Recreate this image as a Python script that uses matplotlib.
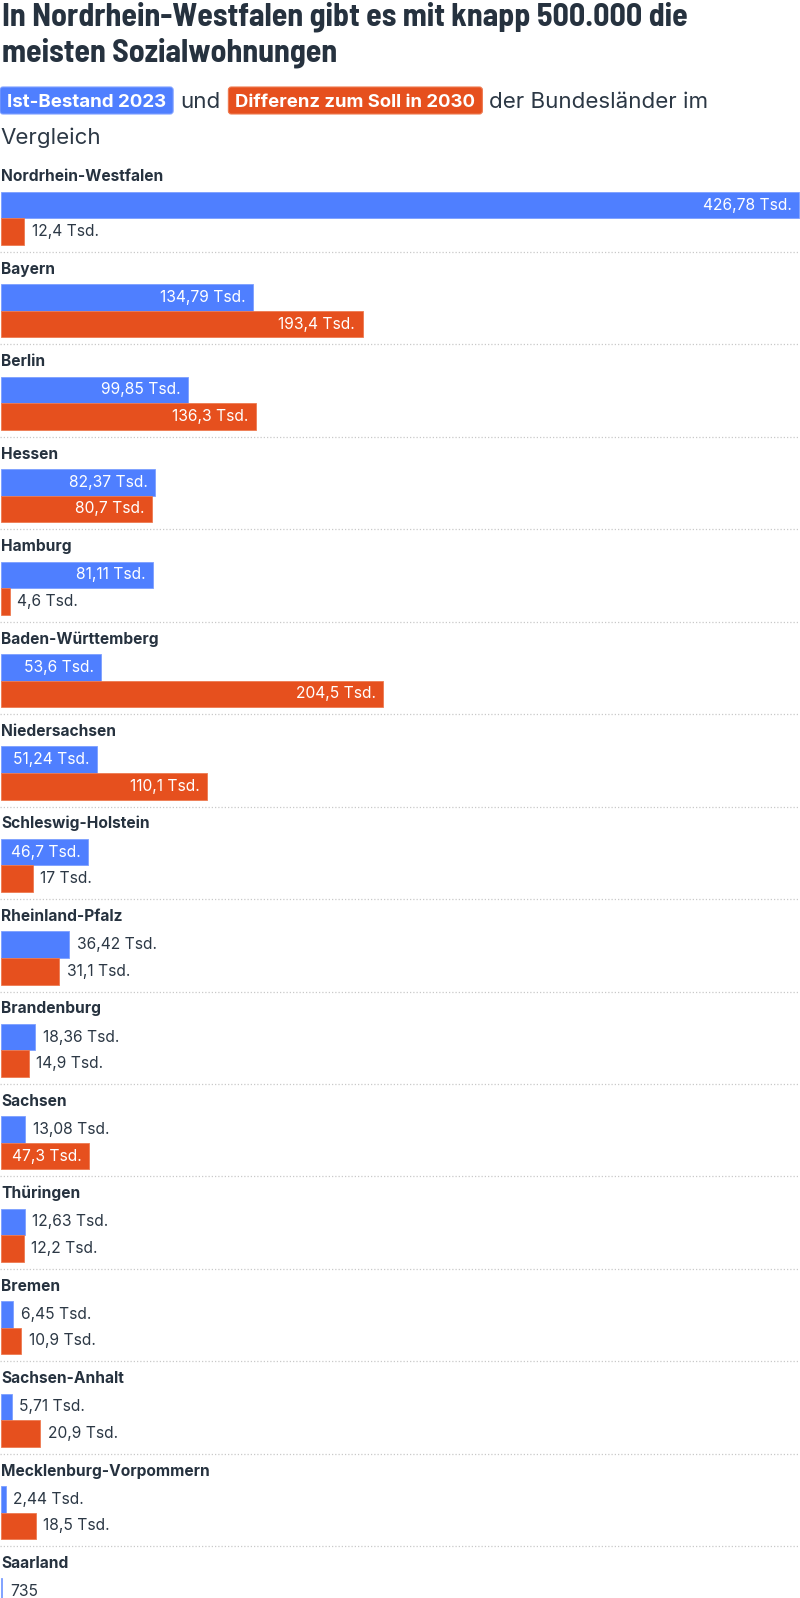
import matplotlib
matplotlib.use("Agg")
import numpy as np
import matplotlib.pyplot as plt
from matplotlib.patches import FancyBboxPatch
from matplotlib.transforms import Affine2D

# ---------------- data ----------------
states = ["Nordrhein-Westfalen", "Bayern", "Berlin", "Hessen", "Hamburg",
          "Baden-Württemberg", "Niedersachsen", "Schleswig-Holstein",
          "Rheinland-Pfalz", "Brandenburg", "Sachsen", "Thüringen", "Bremen",
          "Sachsen-Anhalt", "Mecklenburg-Vorpommern", "Saarland"]
ist_2023 = [426.78, 134.79, 99.85, 82.37, 81.11, 53.6, 51.24, 46.7, 36.42,
            18.36, 13.08, 12.63, 6.45, 5.71, 2.44, 0.735]
diff_2030 = [12.4, 193.4, 136.3, 80.7, 4.6, 204.5, 110.1, 17, 31.1, 14.9,
             47.3, 12.2, 10.9, 20.9, 18.5, np.nan]

title_lines = ["In Nordrhein-Westfalen gibt es mit knapp 500.000 die",
               "meisten Sozialwohnungen"]
legend_ist = "Ist-Bestand 2023"
legend_diff = "Differenz zum Soll in 2030"
sub_und = "und"
sub_rest1 = "der Bundesländer im"
sub_rest2 = "Vergleich"

# ---------------- style ----------------
BLUE = "#4f7fff"
BLUE_EDGE = "#7d9fff"
ORANGE = "#e6501e"
ORANGE_EDGE = "#ee7a50"
DARK = "#26323f"
TEXT = "#2c3845"
SEP = "#c9c9c9"
TITLE_FONT = ["Barlow Semi Condensed", "Roboto Condensed", "DejaVu Sans"]
BODY_FONT = ["Inter", "DejaVu Sans"]

W, H = 800, 1598
fig = plt.figure(figsize=(W / 100, H / 100), dpi=100)
renderer = fig.canvas.get_renderer()
# pixel coordinates measured from the top-left corner
tpx = Affine2D().scale(1.0 / W, -1.0 / H).translate(0, 1) + fig.transFigure


def width_px(t):
    return t.get_window_extent(renderer).width


def fit(t, target):
    for _ in range(3):
        w = width_px(t)
        t.set_fontsize(t.get_fontsize() * target / w)
    return t


# ---------------- title ----------------
t1 = fig.text(2, 26, title_lines[0], transform=tpx, ha="left", va="baseline",
              family=TITLE_FONT, weight="bold", fontsize=20, color=DARK)
fit(t1, 686)
fig.text(2, 61, title_lines[1], transform=tpx, ha="left", va="baseline",
         family=TITLE_FONT, weight="bold", fontsize=t1.get_fontsize(), color=DARK)

# ---------------- subtitle with legend pills ----------------
PILL_TOP, PILL_BOT, PAD = 87, 114, 7
x = 0


def pill(x0, label, fc, ec, target):
    t = fig.text(x0 + PAD, 107.3, label, transform=tpx, ha="left", va="baseline",
                 family=BODY_FONT, weight="bold", fontsize=12, color="white",
                 zorder=3)
    fit(t, target)
    w = width_px(t)
    p = FancyBboxPatch((x0, PILL_TOP), w + 2 * PAD, PILL_BOT - PILL_TOP,
                       boxstyle="round,pad=0,rounding_size=3", transform=tpx,
                       fc=fc, ec=ec, lw=0.8, zorder=2)
    fig.patches.append(p)
    return x0 + w + 2 * PAD


x = pill(0, legend_ist, BLUE, BLUE_EDGE, 159)
tr = fig.text(0, 108, sub_rest1, transform=tpx, ha="left", va="baseline",
              family=BODY_FONT, fontsize=16, color=TEXT)
fit(tr, 219)
sub_size = tr.get_fontsize()
tu = fig.text(x + 7, 108, sub_und, transform=tpx, ha="left", va="baseline",
              family=BODY_FONT, fontsize=sub_size, color=TEXT)
x = x + 7 + width_px(tu) + 8
x = pill(x, legend_diff, ORANGE, ORANGE_EDGE, 240)
tr.set_x(x + 7)
fig.text(0, 144, sub_rest2, transform=tpx, ha="left", va="baseline",
         family=BODY_FONT, fontsize=sub_size, color=TEXT)

# ---------------- bars ----------------
PITCH = 92.45      # px between groups
C0 = 218.3         # px: centre of first group (between its two bars)
BAR_H = 26.6       # px per bar
X0, X1 = 1.0, 799.0
KX = (X1 - X0) / max(ist_2023)   # px per Tsd.

ax = fig.add_axes([0, 0, 1, 1])
ax.set_xlim(-X0 / KX, (W - X0) / KX)
ax.set_ylim((H - C0) / PITCH, -C0 / PITCH)
ax.axis("off")

hb = BAR_H / PITCH
idx = np.arange(len(states))
ist = np.array(ist_2023, dtype=float)
dif = np.array(diff_2030, dtype=float)
ok = ~np.isnan(dif)

ax.barh(idx - hb / 2, ist, height=hb, color=BLUE, edgecolor=BLUE_EDGE,
        linewidth=0.6)
ax.barh(idx[ok] + hb / 2, dif[ok], height=hb, color=ORANGE,
        edgecolor=ORANGE_EDGE, linewidth=0.6)


def fmt(v):
    if v < 1:
        return f"{round(v * 1000)}"
    return f"{v:g}".replace(".", ",") + " Tsd."


# category labels
lab_size = None
for i, s in enumerate(states):
    t = ax.text(0.3 / KX, i - 37 / PITCH, s, ha="left", va="baseline",
                family=BODY_FONT, weight="bold", fontsize=11, color=DARK)
    if i == 0:
        fit(t, 162)
        lab_size = t.get_fontsize()
    else:
        t.set_fontsize(lab_size)

# separators
for i in range(len(states) - 1):
    ax.plot([ax.get_xlim()[0], ax.get_xlim()[1]],
            [i + 33.6 / PITCH] * 2, color=SEP, lw=0.9, ls=(0, (1, 1.6)))

# value labels
ref = ax.text(0, -10, fmt(ist_2023[1]), family=BODY_FONT, fontsize=11)
fit(ref, 85.5)
val_size = ref.get_fontsize()
ref.remove()

pad = 7.5 / KX
for series, sign in ((ist, -1), (dif, 1)):
    for i, v in enumerate(series):
        if np.isnan(v):
            continue
        y = i + sign * hb / 2
        t = ax.text(v - pad, y, fmt(v), ha="right", va="center",
                    family=BODY_FONT, fontsize=val_size, color="white")
        if v * KX < width_px(t) + 16:
            t.set_ha("left")
            t.set_x(v + pad)
            t.set_color(TEXT)

fig.savefig("out.png", dpi=100)
